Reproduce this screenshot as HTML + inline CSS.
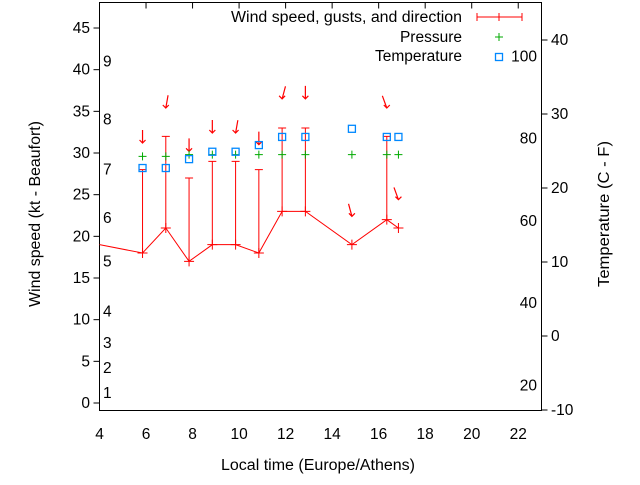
<!DOCTYPE html>
<html><head><meta charset="utf-8"><style>
body{margin:0;background:#fff}
svg text{font-family:"Liberation Sans",sans-serif;font-size:15.5px;fill:#000}
</style></head><body>
<svg width="640" height="480" viewBox="0 0 640 480" xmlns="http://www.w3.org/2000/svg">
<g id="g"></g>
</svg>
<script>
const times=[5.85,6.85,7.85,8.85,9.85,10.85,11.85,12.85,14.85,16.35,16.85];
const speed=[18,21,17,19,19,18,23,23,19,22,21];
const gusts=[28,32,27,29,29,28,33,33,null,32,null];
const tempC=[22.7,22.7,23.9,24.9,24.9,25.8,26.9,26.9,28.0,26.9,26.9];
const pressureKt=[29.6,29.6,29.8,29.8,29.8,29.8,29.8,29.8,29.8,29.8,29.8];
const arrowKt=[31.2,35.4,30.2,32.4,32.4,31.0,36.5,36.5,22.4,35.4,24.4];
const dirDeg=[0,10,0,0,10,0,15,0,345,340,340];
const xTicks=[4,6,8,10,12,14,16,18,20,22];
const ktTicks=[0,5,10,15,20,25,30,35,40,45];
const cTicks=[-10,0,10,20,30,40];
const fLabels=[20,40,60,80,100];
const bftLabels=[1,2,3,4,5,6,7,8,9];
const bftMidKt=[1.2,4.2,7.2,11,17,22.2,28,34,41];
const L=99.5,R=541.5,T=2.5,B=410.5;
const X=t=>L+(t-4)*(R-L)/19;
const Y=k=>403-k*8.333;
const YC=c=>336-c*7.4;
const YF=f=>YC((f-32)*5/9);
const g=document.getElementById('g');
const NS='http://www.w3.org/2000/svg';
function mk(tag,attrs,name,txt){const e=document.createElementNS(NS,tag);for(const k in attrs)e.setAttribute(k,attrs[k]);


if(txt!==undefined)e.textContent=txt;g.appendChild(e);return e;}
mk('rect',{x:L,y:T,width:R-L,height:B-T,fill:'none',stroke:'#000','stroke-width':1},'plot-frame');
xTicks.forEach(t=>{mk('line',{x1:X(t),y1:T,x2:X(t),y2:T+6,stroke:'#000'},'x-tick-top');
mk('text',{x:X(t),y:439,'text-anchor':'middle'},'x-tick-label',t);});
ktTicks.forEach(k=>{mk('line',{x1:L-6,y1:Y(k),x2:L,y2:Y(k),stroke:'#000'},'y-tick');
mk('text',{x:90,y:Y(k)+5,'text-anchor':'end'},'y-tick-label',k);});
bftLabels.forEach((b,i)=>mk('text',{x:103,y:Y(bftMidKt[i])+5},'beaufort-label',b));
cTicks.forEach(c=>{mk('line',{x1:R,y1:YC(c),x2:R+6,y2:YC(c),stroke:'#000'},'y2-tick');
mk('text',{x:551,y:YC(c)+5},'y2-tick-label',c);});
fLabels.forEach(f=>mk('text',{x:537,y:YF(f)+5,'text-anchor':'end'},'fahrenheit-label',f));
mk('text',{x:318,y:470,'text-anchor':'middle',textLength:194,lengthAdjust:'spacingAndGlyphs'},'x-axis-title','Local time (Europe/Athens)');
mk('text',{x:40,y:214,'text-anchor':'middle',transform:'rotate(-90 40 214)',textLength:186,lengthAdjust:'spacingAndGlyphs'},'y-axis-title','Wind speed (kt - Beaufort)');
mk('text',{x:609,y:214,'text-anchor':'middle',transform:'rotate(-90 609 214)',textLength:146,lengthAdjust:'spacingAndGlyphs'},'y2-axis-title','Temperature (C - F)');
let pts='99.5,'+Y(19);times.forEach((t,i)=>pts+=' '+X(t)+','+Y(speed[i]));
mk('polyline',{points:pts,fill:'none',stroke:'#f00','stroke-width':1},'wind-speed-line');
times.forEach((t,i)=>{const x=X(t),y=Y(speed[i]);
mk('path',{d:`M${x-5} ${y}H${x+5}M${x} ${y-5}V${y+5}`,stroke:'#f00'},'wind-point');
if(gusts[i]!==null){const gy=Y(gusts[i]);mk('path',{d:`M${x} ${y}V${gy}M${x-4} ${gy}H${x+4}`,stroke:'#f00'},'gust-bar');}
const hy=Y(arrowKt[i]),a=dirDeg[i]*Math.PI/180,len=13;
const tx=x+Math.sin(a)*len,ty=hy-Math.cos(a)*len;
mk('path',{d:`M${tx} ${ty}L${x} ${hy}M${x-3} ${hy-3}L${x} ${hy}L${x+3} ${hy-3}`,stroke:'#f00','stroke-width':1.2,fill:'none'},'wind-direction-arrow');
const py=Y(pressureKt[i]);mk('path',{d:`M${x-4} ${py}H${x+4}M${x} ${py-4}V${py+4}`,stroke:'#0a0'},'pressure-point');
const cy=YC(tempC[i]);mk('rect',{x:x-3.5,y:cy-3.5,width:7,height:7,fill:'none',stroke:'#08f','stroke-width':1.3},'temperature-point');});
mk('text',{x:462,y:22,'text-anchor':'end',textLength:231,lengthAdjust:'spacingAndGlyphs'},'legend-wind-label','Wind speed, gusts, and direction');
mk('path',{d:'M477 17H522M477 13V21M522 13V21M499 13V21',stroke:'#f00'},'legend-wind-sample');
mk('text',{x:462,y:42,'text-anchor':'end'},'legend-pressure-label','Pressure');
mk('path',{d:'M495 37H503M499 33V41',stroke:'#0a0'},'legend-pressure-sample');
mk('text',{x:462,y:61,'text-anchor':'end'},'legend-temperature-label','Temperature');
mk('rect',{x:495.5,y:53.5,width:7,height:7,fill:'none',stroke:'#08f','stroke-width':1.3},'legend-temperature-sample');
</script>
</body></html>
